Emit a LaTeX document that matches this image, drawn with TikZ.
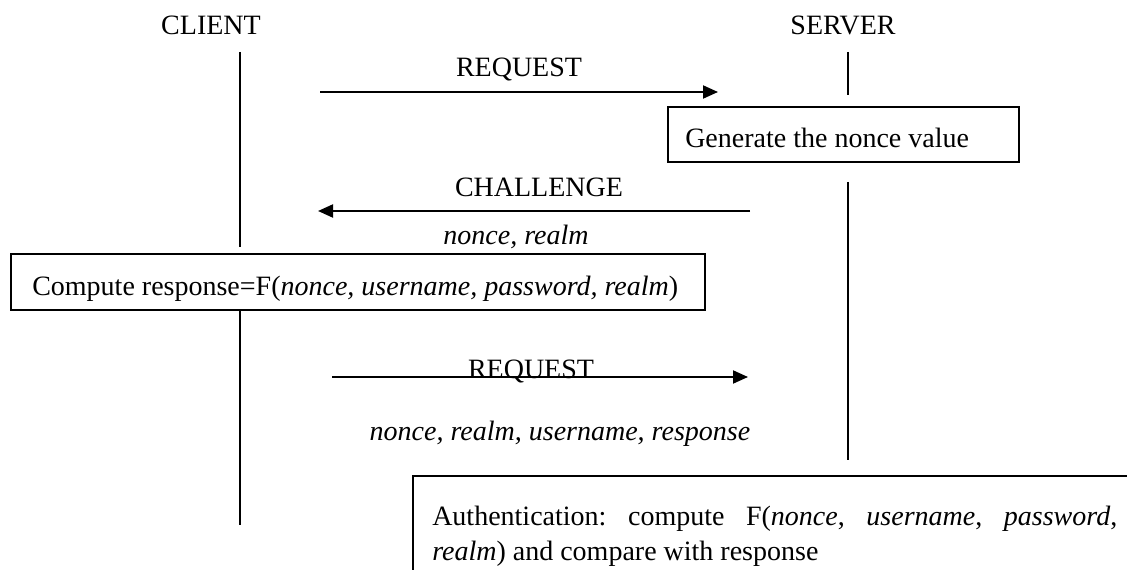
\documentclass[tikz,border=0pt]{standalone}
\usepackage{fontspec}
\setmainfont{Liberation Serif}
\usetikzlibrary{arrows.meta}
\begin{document}
\begin{tikzpicture}[x=0.75pt,y=-0.75pt,font=\fontsize{21}{26.25}\selectfont\frenchspacing,
    every node/.style={inner sep=0pt,anchor=base},
    lifeline/.style={line width=1.5pt},
    msg/.style={line width=1.5pt,-{Triangle[length=11.25pt,width=9.75pt]}},
    stepbox/.style={draw,line width=1.5pt,anchor=north west}]
        \path[use as bounding box] (0,0) rectangle (1127,570);
        \clip (0,0) rectangle (1127,570);
        \node at (211,35) (client) {CLIENT};
        \node at (843,35) (server) {SERVER};
        \coordinate (c1) at (240,52);
        \coordinate (c2) at (240,247);
        \coordinate (c3) at (240,309);
        \coordinate (c4) at (240,525);
        \coordinate (s1) at (848,52);
        \coordinate (s2) at (848,95);
        \coordinate (s3) at (848,182);
        \coordinate (s4) at (848,460);
        \path[draw,lifeline] (c1) -- (c2) (c3) -- (c4);
        \path[draw,lifeline] (s1) -- (s2) (s3) -- (s4);
        \node at (519,77) (req) {REQUEST};
        \coordinate (reqa) at (320,92);
        \coordinate (reqb) at (718,92);
        \path[draw,msg] (reqa) -- (reqb);
        \node[stepbox,minimum width=263.25pt,minimum height=41.25pt] at (667,106) (genbox) {};
        \node[anchor=base west] at (685,148) (gen) {Generate the nonce value};
        \node at (539,197) (chal) {CHALLENGE};
        \coordinate (chala) at (750,211);
        \coordinate (chalb) at (318,211);
        \path[draw,msg] (chala) -- (chalb);
        \node at (516,244) (chalpar) {\textit{nonce, realm}};
        \node[stepbox,minimum width=520.5pt,minimum height=42pt] at (10,253) (compbox) {};
        \node[anchor=base west] at (32,295) (comp) {Compute response=F(\textit{nonce, username, password, realm})};
        \node at (531,378) (reqtwo) {REQUEST};
        \coordinate (reqtwoa) at (332,377);
        \coordinate (reqtwob) at (748,377);
        \path[draw,msg] (reqtwoa) -- (reqtwob);
        \node at (560,440) (reqpar) {\textit{nonce, realm, username, response}};
        \node[stepbox,minimum width=600pt,minimum height=112.5pt] at (412,475) (authbox) {};
        \node[anchor=base west,text width=513.75pt,align=justify] at (432,525) (auth) {Authentication: compute F(\textit{nonce}, \textit{username}, \textit{password},\linebreak \textit{realm}) and compare with response};
      \end{tikzpicture}
\end{document}
